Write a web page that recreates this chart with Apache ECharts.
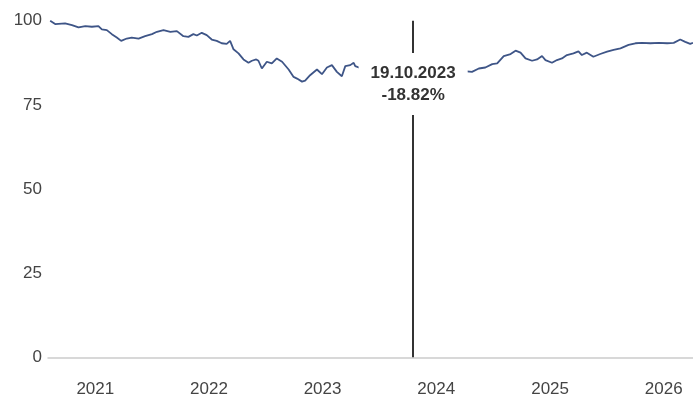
<!DOCTYPE html>
<html>
<head>
<meta charset="utf-8">
<script src="https://cdn.jsdelivr.net/npm/echarts@6/dist/echarts.min.js"></script>
<style>
html,body{margin:0;padding:0;background:#fff;}
#chart{width:693px;height:401px;}
</style>
</head>
<body>
<div id="chart"></div>
<script>
const dates = [
'2020-08-09','2020-08-25','2020-09-26','2020-10-18','2020-11-08','2020-11-30','2020-12-21',
'2021-01-11','2021-01-22','2021-02-07','2021-02-23','2021-03-11','2021-03-25','2021-04-12','2021-04-28','2021-05-20','2021-06-10','2021-07-02','2021-07-18','2021-08-08','2021-08-30','2021-09-20','2021-10-11','2021-10-27','2021-11-12','2021-11-23','2021-12-09','2021-12-25',
'2022-01-10','2022-01-26','2022-02-11','2022-02-27','2022-03-10','2022-03-21','2022-04-06','2022-04-22','2022-05-08','2022-05-19','2022-06-02','2022-06-09','2022-06-20','2022-07-06','2022-07-22','2022-08-07','2022-08-24','2022-09-14','2022-09-30','2022-10-11','2022-10-27','2022-11-06','2022-11-22','2022-12-14','2022-12-30',
'2023-01-15','2023-01-31','2023-02-16','2023-03-04','2023-03-15','2023-03-31','2023-04-11','2023-04-16','2023-05-15','2023-07-01','2023-08-15','2023-09-20','2023-10-19','2023-11-20',
'2024-01-15','2024-03-10','2024-04-25','2024-05-17','2024-06-07','2024-06-29','2024-07-15','2024-08-05','2024-08-27','2024-09-12','2024-09-28','2024-10-14','2024-11-04','2024-11-20','2024-12-06','2024-12-17',
'2025-01-07','2025-01-23','2025-02-08','2025-02-24','2025-03-17','2025-04-02','2025-04-13','2025-04-29','2025-05-20','2025-06-11','2025-07-03','2025-07-24','2025-08-15','2025-09-10','2025-10-02','2025-10-23','2025-11-19','2025-12-16',
'2026-01-12','2026-02-02','2026-02-23','2026-03-11','2026-03-27','2026-04-05'
];
const values = [
100.0,99.0,99.2,98.7,98.0,98.4,98.2,
98.4,97.4,97.2,96.0,95.0,94.0,94.7,95.0,94.7,95.4,96.0,96.7,97.2,96.7,96.9,95.4,95.2,96.0,95.6,96.4,95.7,
94.4,94.0,93.3,93.1,94.0,91.5,90.3,88.5,87.5,88.1,88.5,88.1,85.8,87.8,87.3,88.8,87.8,85.5,83.3,82.8,81.9,82.2,83.8,85.5,84.1,
86.1,86.8,84.8,83.5,86.5,86.8,87.5,86.5,85.5,86.2,84.0,82.5,81.18,83.0,
84.0,85.2,84.8,85.8,86.1,87.1,87.3,89.5,90.1,91.1,90.5,88.8,88.1,88.5,89.5,88.3,
87.5,88.3,88.8,89.8,90.3,90.9,89.8,90.5,89.3,90.1,90.8,91.3,91.8,92.8,93.3,93.4,93.3,93.4,
93.3,93.4,94.4,93.7,93.1,93.4
];
const yearLabels = ['2021','2022','2023','2024','2025','2026'];
const yTicks = [0,25,50,75,100];
const markerDate = '2023-10-19';
const markerValue = 81.18;
const markerText = ['19.10.2023','-18.82%'];
const axisStart = '2020-08-02';
const axisEnd = '2026-04-05';

const font = "'Liberation Sans', Arial, sans-serif";
const chart = echarts.init(document.getElementById('chart'));
const ts = d => new Date(d + 'T00:00:00Z').getTime();
const yearTs = yearLabels.map(y => ts(y + '-01-01'));

chart.setOption({
  animation: false,
  backgroundColor: '#fff',
  grid: {left: 48, right: 0, top: 20.7, bottom: 43.7},
  xAxis: {
    type: 'value',
    min: ts(axisStart),
    max: ts(axisEnd),
    axisLine: {show: true, lineStyle: {color: '#cccccc', width: 1.5}},
    axisTick: {show: false},
    splitLine: {show: false},
    axisLabel: {
      customValues: yearTs,
      formatter: v => String(new Date(v).getUTCFullYear()),
      color: '#444',
      fontSize: 17,
      fontFamily: font,
      margin: 24
    }
  },
  yAxis: {
    type: 'value',
    min: yTicks[0],
    max: yTicks[yTicks.length - 1],
    interval: 25,
    axisLine: {show: false},
    axisTick: {show: false},
    splitLine: {show: false},
    axisLabel: {color: '#444', fontSize: 17, fontFamily: font, margin: 6}
  },
  series: [{
    type: 'line',
    data: dates.map((d, i) => [ts(d), values[i]]),
    showSymbol: false,
    symbol: 'none',
    lineStyle: {color: '#3e5587', width: 1.8},
    z: 2,
    markLine: {
      silent: true,
      symbol: 'none',
      z: 3,
      label: {show: false},
      lineStyle: {color: '#333', width: 2, type: 'solid'},
      data: [{xAxis: ts(markerDate)}]
    },
    markPoint: {
      silent: true,
      z: 10,
      symbol: 'rect',
      symbolSize: 0,
      data: [{coord: [ts(markerDate), markerValue]}],
      label: {
        show: true,
        position: 'inside',
        formatter: markerText.join('\n'),
        color: '#333',
        fontSize: 17,
        fontWeight: 'bold',
        fontFamily: font,
        lineHeight: 22,
        backgroundColor: '#fff',
        padding: [9, 12]
      }
    }
  }]
});
</script>
</body>
</html>
